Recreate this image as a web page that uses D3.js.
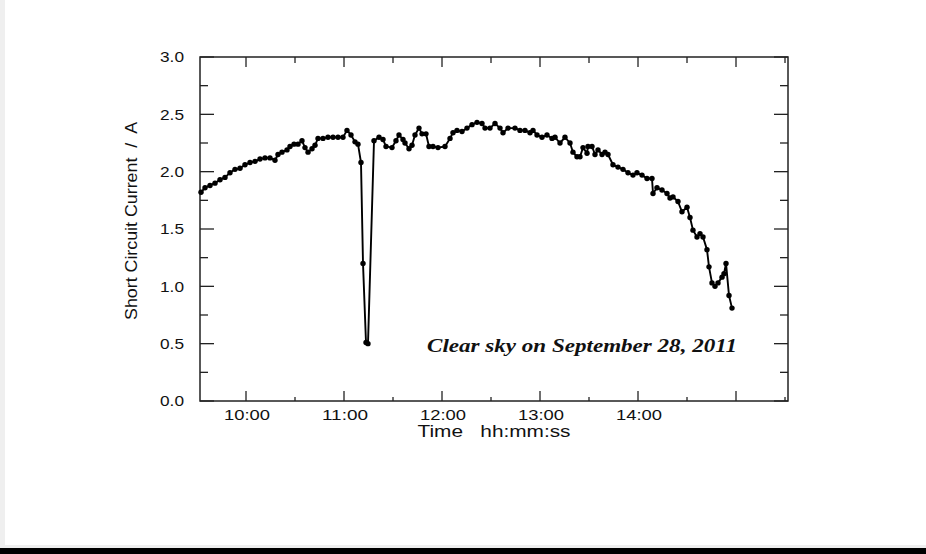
<!DOCTYPE html>
<html>
<head>
<meta charset="utf-8">
<script src="https://cdn.jsdelivr.net/npm/d3@7"></script>
<style>
	html, body { margin: 0; padding: 0; background: #efefef; }
	svg { display: block; }
	.tick-label { font-family: "Liberation Sans", Arial, sans-serif; font-size: 15px; fill: #111; }
	.axis-title { font-family: "Liberation Sans", Arial, sans-serif; font-size: 16px; fill: #111; }
	.note { font-family: "Liberation Serif", "Times New Roman", serif; font-size: 18px; font-weight: bold; font-style: italic; fill: #111; }
</style>
</head>
<body>
<svg id="svg-chart"></svg>
<script>

/*=================
=== The data
=================*/
var times = [
	'09:32:27', '09:34:54', '09:37:58', '09:41:01', '09:44:05', '09:47:08', '09:50:12', '09:53:16',
	'09:56:20', '09:59:23', '10:02:27', '10:05:31', '10:08:34', '10:11:38', '10:14:41', '10:17:45',
	'10:19:35', '10:22:02', '10:25:06', '10:26:56', '10:29:23', '10:31:50', '10:34:17', '10:36:07',
	'10:37:58', '10:40:25', '10:42:15', '10:44:05', '10:47:08', '10:50:12', '10:53:16', '10:56:20',
	'10:59:23', '11:01:50', '11:04:17', '11:06:44', '11:08:34', '11:10:24', '11:11:38', '11:13:28',
	'11:14:41', '11:18:22', '11:21:26', '11:23:53', '11:25:43', '11:29:23', '11:31:50', '11:33:40',
	'11:36:07', '11:37:21', '11:39:48', '11:41:38', '11:43:28', '11:45:55', '11:47:46', '11:50:12',
	'11:52:02', '11:54:29', '11:57:33', '12:01:50', '12:04:54', '12:06:44', '12:09:11', '12:12:14',
	'12:15:18', '12:18:22', '12:21:26', '12:24:29', '12:26:20', '12:29:23', '12:32:27', '12:35:31',
	'12:37:21', '12:40:25', '12:44:41', '12:47:45', '12:50:49', '12:53:53', '12:55:43', '12:58:10',
	'13:01:13', '13:04:17', '13:07:21', '13:09:11', '13:12:14', '13:15:18', '13:18:22', '13:20:12',
	'13:22:39', '13:24:29', '13:26:20', '13:28:47', '13:29:23', '13:31:50', '13:33:40', '13:35:31',
	'13:37:58', '13:39:48', '13:41:38', '13:44:41', '13:47:45', '13:50:49', '13:53:53', '13:56:56',
	'13:59:23', '14:02:27', '14:05:31', '14:08:34', '14:09:11', '14:11:38', '14:14:41', '14:17:45',
	'14:19:35', '14:21:26', '14:24:29', '14:26:56', '14:30:00', '14:31:50', '14:33:40', '14:36:07',
	'14:37:58', '14:39:48', '14:42:14', '14:43:28', '14:45:18', '14:47:08', '14:48:59', '14:51:26',
	'14:52:39', '14:53:53', '14:55:43', '14:57:33'
];

var current = [
	1.82, 1.86, 1.88, 1.90, 1.93, 1.95, 1.99, 2.02,
	2.03, 2.06, 2.08, 2.09, 2.11, 2.12, 2.12, 2.10,
	2.15, 2.17, 2.19, 2.22, 2.24, 2.24, 2.27, 2.21,
	2.17, 2.20, 2.23, 2.29, 2.29, 2.30, 2.30, 2.30,
	2.30, 2.36, 2.32, 2.26, 2.24, 2.08, 1.20, 0.51,
	0.50, 2.27, 2.30, 2.28, 2.22, 2.21, 2.27, 2.32,
	2.28, 2.25, 2.20, 2.23, 2.32, 2.38, 2.33, 2.33,
	2.22, 2.22, 2.21, 2.22, 2.29, 2.34, 2.36, 2.35,
	2.38, 2.41, 2.43, 2.42, 2.38, 2.38, 2.42, 2.38,
	2.34, 2.38, 2.38, 2.36, 2.36, 2.34, 2.36, 2.32,
	2.30, 2.32, 2.29, 2.30, 2.25, 2.30, 2.25, 2.17,
	2.13, 2.13, 2.21, 2.16, 2.22, 2.22, 2.15, 2.19,
	2.15, 2.17, 2.15, 2.06, 2.04, 2.02, 1.99, 1.97,
	1.99, 1.97, 1.94, 1.94, 1.81, 1.86, 1.84, 1.81,
	1.77, 1.78, 1.74, 1.65, 1.69, 1.60, 1.49, 1.43,
	1.46, 1.43, 1.32, 1.17, 1.03, 1.00, 1.03, 1.08,
	1.11, 1.20, 0.92, 0.81
];

var xDomain = ['09:31:50', '15:31:50'];
var xTickLabels = ['10:00', '11:00', '12:00', '13:00', '14:00'];
var yTickValues = [0, 0.5, 1.0, 1.5, 2.0, 2.5, 3.0];
var note = 'Clear sky on September 28, 2011';

/*=================
=== The vars
=================*/
var width = 926;
var height = 554;
var margin = { top: 57, right: 138, bottom: 153, left: 200 };
var plotW = width - margin.left - margin.right;
var plotH = height - margin.top - margin.bottom;

var parseTime = d3.timeParse('%H:%M:%S');

var svg = d3.select('#svg-chart')
	.attr('width', width)
	.attr('height', height);

// page panel + bottom rule
svg.append('rect')
	.attr('x', 5).attr('y', 0)
	.attr('width', width - 5).attr('height', 545)
	.attr('fill', '#fff');
svg.append('rect')
	.attr('x', 0).attr('y', 548)
	.attr('width', width).attr('height', 6)
	.attr('fill', '#000');

var chart = svg.append('g')
	.attr('transform', 'translate(' + margin.left + ',' + margin.top + ')');

var x = d3.scaleTime()
	.domain(xDomain.map(parseTime))
	.range([0, plotW]);
var y = d3.scaleLinear()
	.domain([0, 3])
	.range([plotH, 0]);

var data = times.map(function (t, i) { return { t: parseTime(t), v: current[i] }; });

/*=================
=== Axes
=================*/
var hourTicks = d3.timeHour.range(parseTime('10:00:00'), parseTime('15:30:00'));
var halfTicks = d3.timeMinute.every(30).range(parseTime('09:31:00'), parseTime('15:32:00'))
	.filter(function (d) { return d.getMinutes() === 30; });
var yMinor = d3.range(0.25, 3, 0.5);

var tickG = chart.append('g').attr('stroke', '#222').attr('stroke-width', 1.3);

// bottom + top x ticks (inward)
tickG.selectAll('.xmaj-b').data(hourTicks).enter().append('line')
	.attr('x1', function (d) { return x(d); }).attr('x2', function (d) { return x(d); })
	.attr('y1', plotH).attr('y2', plotH - 10);
tickG.selectAll('.xmin-b').data(halfTicks).enter().append('line')
	.attr('x1', function (d) { return x(d); }).attr('x2', function (d) { return x(d); })
	.attr('y1', plotH).attr('y2', plotH - 4);
tickG.selectAll('.xmaj-t').data(hourTicks).enter().append('line')
	.attr('x1', function (d) { return x(d); }).attr('x2', function (d) { return x(d); })
	.attr('y1', 0).attr('y2', 10);
tickG.selectAll('.xmin-t').data(halfTicks).enter().append('line')
	.attr('x1', function (d) { return x(d); }).attr('x2', function (d) { return x(d); })
	.attr('y1', 0).attr('y2', 6);

// left + right y ticks (inward)
tickG.selectAll('.ymaj-l').data(yTickValues).enter().append('line')
	.attr('x1', 0).attr('x2', 14)
	.attr('y1', function (d) { return y(d); }).attr('y2', function (d) { return y(d); });
tickG.selectAll('.ymin-l').data(yMinor).enter().append('line')
	.attr('x1', 0).attr('x2', 8)
	.attr('y1', function (d) { return y(d); }).attr('y2', function (d) { return y(d); });
tickG.selectAll('.ymaj-r').data(yTickValues).enter().append('line')
	.attr('x1', plotW).attr('x2', plotW - 14)
	.attr('y1', function (d) { return y(d); }).attr('y2', function (d) { return y(d); });
tickG.selectAll('.ymin-r').data(yMinor).enter().append('line')
	.attr('x1', plotW).attr('x2', plotW - 8)
	.attr('y1', function (d) { return y(d); }).attr('y2', function (d) { return y(d); });

// frame
chart.append('rect')
	.attr('width', plotW).attr('height', plotH)
	.attr('fill', 'none')
	.attr('stroke', '#222')
	.attr('stroke-width', 1.5);

// tick labels (the original font is drawn a bit wide)
chart.selectAll('.ylab').data(yTickValues).enter().append('text')
	.attr('class', 'tick-label')
	.attr('x', -16)
	.attr('y', function (d) { return y(d); })
	.attr('dy', '0.35em')
	.attr('text-anchor', 'end')
	.attr('textLength', 24)
	.attr('lengthAdjust', 'spacingAndGlyphs')
	.text(function (d) { return d3.format('.1f')(d); });

chart.selectAll('.xlab').data(xTickLabels).enter().append('text')
	.attr('class', 'tick-label')
	.attr('x', function (d) { return x(parseTime(d + ':00')) + 1; })
	.attr('y', plotH + 19)
	.attr('text-anchor', 'middle')
	.attr('textLength', 46)
	.attr('lengthAdjust', 'spacingAndGlyphs')
	.text(function (d) { return d; });

// axis titles
chart.append('text')
	.attr('class', 'axis-title')
	.attr('x', 294)
	.attr('y', plotH + 36)
	.attr('text-anchor', 'middle')
	.attr('xml:space', 'preserve')
	.attr('textLength', 153)
	.attr('lengthAdjust', 'spacingAndGlyphs')
	.text('Time   hh:mm:ss');

chart.append('text')
	.attr('class', 'axis-title')
	.attr('transform', 'translate(-63,' + (y(1.5) - 8) + ') rotate(-90)')
	.attr('text-anchor', 'middle')
	.attr('xml:space', 'preserve')
	.attr('textLength', 198)
	.attr('lengthAdjust', 'spacingAndGlyphs')
	.text('Short Circuit Current  /  A');

/*=================
=== The line
=================*/
var myLine = d3.line()
	.x(function (d) { return x(d.t); })
	.y(function (d) { return y(d.v); });

chart.append('path')
	.datum(data)
	.attr('fill', 'none')
	.attr('stroke', '#000')
	.attr('stroke-width', 1.9)
	.attr('stroke-linejoin', 'round')
	.attr('d', myLine);

chart.selectAll('.dot').data(data).enter().append('circle')
	.attr('cx', function (d) { return x(d.t); })
	.attr('cy', function (d) { return y(d.v); })
	.attr('r', 2.7)
	.attr('fill', '#000');

chart.append('text')
	.attr('class', 'note')
	.attr('x', 537)
	.attr('y', y(0.5) + 8)
	.attr('text-anchor', 'end')
	.attr('textLength', 310)
	.attr('lengthAdjust', 'spacingAndGlyphs')
	.text(note);

</script>
</body>
</html>
